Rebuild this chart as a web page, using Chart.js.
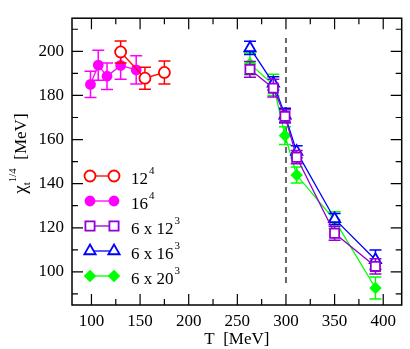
<!DOCTYPE html>
<html>
<head>
<meta charset="utf-8">
<script src="https://cdn.jsdelivr.net/npm/chart.js@4.4.0/dist/chart.umd.min.js"></script>
<style>
  body { margin: 0; background: #fff; }
</style>
</head>
<body>
<canvas id="topo" width="410" height="349"></canvas>
<script>
// data: T [MeV], chi_t^(1/4) [MeV], error
var t12 = [130, 155, 175];
var chi12 = [199.7, 187.8, 190.4];
var err12 = [5, 5, 5.2];

var t16 = [99, 107, 116, 130, 146];
var chi16 = [185, 193.7, 188.7, 193.6, 191.6];
var err16 = [6, 6.8, 6, 6.3, 6.4];

var tFinite = [263, 287, 299, 311, 350, 392];
var chi6x12 = [191.8, 183.3, 170.5, 152, 117.5, 102.5];
var err6x12 = [3.6, 4, 3, 3, 3.2, 3.5];
var chi6x16 = [201.5, 185.5, 171, 154.5, 124, 105.5];
var err6x16 = [3, 3, 3.2, 2.7, 2.5, 4.4];
var chi6x20 = [194.3, 184.8, 161.8, 143.9, 123.5, 92.7];
var err6x20 = [4.9, 4.8, 4, 3.6, 3.8, 5];

var xTicks = [100, 150, 200, 250, 300, 350, 400];
var yTicks = [100, 120, 140, 160, 180, 200];
var tc = 300;   // dashed line

var serif = "'Liberation Serif', 'Times New Roman', serif";

function pts(xs, ys) {
    return xs.map(function (x, i) { return { x: x, y: ys[i] }; });
}

function series(label, sup, xs, ys, errs, color, style, radius, fill) {
    return {
        label: label, sup: sup, errs: errs,
        data: pts(xs, ys),
        borderColor: color,
        backgroundColor: fill,
        borderWidth: 1.3,
        pointStyle: style,
        pointRadius: radius,
        pointBorderWidth: 1.8,
        pointBorderColor: color,
        pointBackgroundColor: fill,
        showLine: true,
        tension: 0
    };
}

var datasets = [
    series('12', '4', t12, chi12, err12, '#ff0000', 'circle', 5.5, '#ffffff'),
    series('16', '4', t16, chi16, err16, '#ff00ff', 'circle', 4.5, '#ff00ff'),
    series('6 x 12', '3', tFinite, chi6x12, err6x12, '#9400d3', 'rect', 6.5, '#ffffff'),
    series('6 x 16', '3', tFinite, chi6x16, err6x16, '#0000ff', 'triangle', 6.5, '#ffffff'),
    series('6 x 20', '3', tFinite, chi6x20, err6x20, '#00ff00', 'rectRot', 5, '#00ff00')
];

// own marker drawing for the legend
function marker(ctx, style, r, x, y) {
    ctx.beginPath();
    if (style === 'circle') {
        ctx.arc(x, y, r, 0, Math.PI * 2);
    } else if (style === 'rect') {
        var s = r * Math.SQRT1_2;
        ctx.rect(x - s, y - s, 2 * s, 2 * s);
    } else if (style === 'triangle') {
        ctx.moveTo(x, y - r);
        ctx.lineTo(x + r * 0.866, y + r * 0.5);
        ctx.lineTo(x - r * 0.866, y + r * 0.5);
        ctx.closePath();
    } else {
        ctx.moveTo(x, y - r);
        ctx.lineTo(x + r, y);
        ctx.lineTo(x, y + r);
        ctx.lineTo(x - r, y);
        ctx.closePath();
    }
    ctx.fill();
    ctx.stroke();
}

var decor = {
    id: 'decor',
    beforeDatasetsDraw: function (chart) {
        var ctx = chart.ctx, xs = chart.scales.x, ys = chart.scales.y;
        var px = xs.getPixelForValue(tc);
        ctx.save();
        ctx.strokeStyle = '#666666';
        ctx.lineWidth = 2;
        ctx.setLineDash([6, 4]);
        ctx.beginPath();
        ctx.moveTo(px, ys.getPixelForValue(95));
        ctx.lineTo(px, ys.getPixelForValue(206));
        ctx.stroke();
        ctx.restore();
    },
    beforeDatasetDraw: function (chart, args) {
        // error bars under each set's own markers
        var ds = chart.data.datasets[args.index];
        var ctx = chart.ctx, xs = chart.scales.x, ys = chart.scales.y;
        ctx.save();
        ctx.strokeStyle = ds.borderColor;
        ctx.lineWidth = 1.5;
        ds.data.forEach(function (p, i) {
            var x = xs.getPixelForValue(p.x);
            var y1 = ys.getPixelForValue(p.y + ds.errs[i]);
            var y2 = ys.getPixelForValue(p.y - ds.errs[i]);
            ctx.beginPath();
            ctx.moveTo(x, y1); ctx.lineTo(x, y2);
            ctx.moveTo(x - 6, y1); ctx.lineTo(x + 6, y1);
            ctx.moveTo(x - 6, y2); ctx.lineTo(x + 6, y2);
            ctx.stroke();
        });
        ctx.restore();
    },
    afterDraw: function (chart) {
        var ctx = chart.ctx, a = chart.chartArea;
        var xs = chart.scales.x, ys = chart.scales.y;
        ctx.save();
        ctx.strokeStyle = '#000';
        ctx.lineWidth = 1.5;
        ctx.strokeRect(a.left, a.top, a.right - a.left, a.bottom - a.top);

        // inward ticks on all four sides
        ctx.lineWidth = 1.2;
        ctx.beginPath();
        for (var v = 100; v <= 400; v += 25) {
            var len = v % 50 === 0 ? 11 : 6;
            var px = xs.getPixelForValue(v);
            ctx.moveTo(px, a.bottom); ctx.lineTo(px, a.bottom - len);
            ctx.moveTo(px, a.top); ctx.lineTo(px, a.top + len);
        }
        for (var w = 90; w <= 210; w += 10) {
            var l2 = w % 20 === 0 ? 11 : 6;
            var py = ys.getPixelForValue(w);
            ctx.moveTo(a.left, py); ctx.lineTo(a.left + l2, py);
            ctx.moveTo(a.right, py); ctx.lineTo(a.right - l2, py);
        }
        ctx.stroke();

        // axis titles
        ctx.fillStyle = '#000';
        ctx.font = '17px ' + serif;
        ctx.textAlign = 'center';
        ctx.textBaseline = 'alphabetic';
        ctx.fillText('T  [MeV]', (a.left + a.right) / 2, 344);

        ctx.translate(26, (a.top + a.bottom) / 2 - 8);
        ctx.rotate(-Math.PI / 2);
        ctx.textAlign = 'left';
        var parts = [
            { s: 'χ', f: '19px ', dy: 0 },
            { s: 't', f: '11px ', dy: 4 },
            { s: '1/4', f: '11px ', dy: -10 },
            { s: '  [MeV]', f: '17px ', dy: 0 }
        ];
        var total = 0;
        parts.forEach(function (p) { ctx.font = p.f + serif; total += ctx.measureText(p.s).width; });
        var cx = -total / 2;
        parts.forEach(function (p) {
            ctx.font = p.f + serif;
            ctx.fillText(p.s, cx, p.dy);
            cx += ctx.measureText(p.s).width;
        });
        ctx.restore();

        // legend
        ctx.save();
        var rows = [176, 201, 226, 251, 276];
        chart.data.datasets.forEach(function (ds, i) {
            var y = rows[i];
            ctx.strokeStyle = ds.borderColor;
            ctx.fillStyle = ds.pointBackgroundColor;
            ctx.lineWidth = 1.3;
            ctx.beginPath();
            ctx.moveTo(90, y); ctx.lineTo(114, y);
            ctx.stroke();
            ctx.lineWidth = 1.8;
            marker(ctx, ds.pointStyle, ds.pointRadius, 90, y);
            marker(ctx, ds.pointStyle, ds.pointRadius, 114, y);
            ctx.fillStyle = '#000';
            ctx.font = '17px ' + serif;
            ctx.textAlign = 'left';
            ctx.fillText(ds.label, 131, y + 8);
            var wd = ctx.measureText(ds.label).width;
            ctx.font = '11px ' + serif;
            ctx.fillText(ds.sup, 131 + wd + 1, y - 2);
        });
        ctx.restore();
    }
};

var ctx = document.getElementById('topo').getContext('2d');
var chart = new Chart(ctx, {
    type: 'scatter',
    data: { datasets: datasets },
    options: {
        responsive: false,
        animation: false,
        layout: { padding: { left: 0, right: 4, top: 2, bottom: 0 } },
        plugins: { legend: { display: false }, tooltip: { enabled: false } },
        scales: {
            x: {
                type: 'linear', min: 80, max: 419,
                afterFit: function (s) { s.height = 44; },
                afterBuildTicks: function (s) { s.ticks = xTicks.map(function (v) { return { value: v }; }); },
                grid: { display: false, drawTicks: false },
                border: { display: false },
                ticks: { autoSkip: false, maxRotation: 0, padding: 6, color: '#000', font: { family: serif, size: 17 } }
            },
            y: {
                type: 'linear', min: 85, max: 215,
                afterFit: function (s) { s.width = 72; },
                afterBuildTicks: function (s) { s.ticks = yTicks.map(function (v) { return { value: v }; }); },
                grid: { display: false, drawTicks: false },
                border: { display: false },
                ticks: { autoSkip: false, padding: 8, color: '#000', font: { family: serif, size: 17 } }
            }
        }
    },
    plugins: [decor]
});
</script>
</body>
</html>
